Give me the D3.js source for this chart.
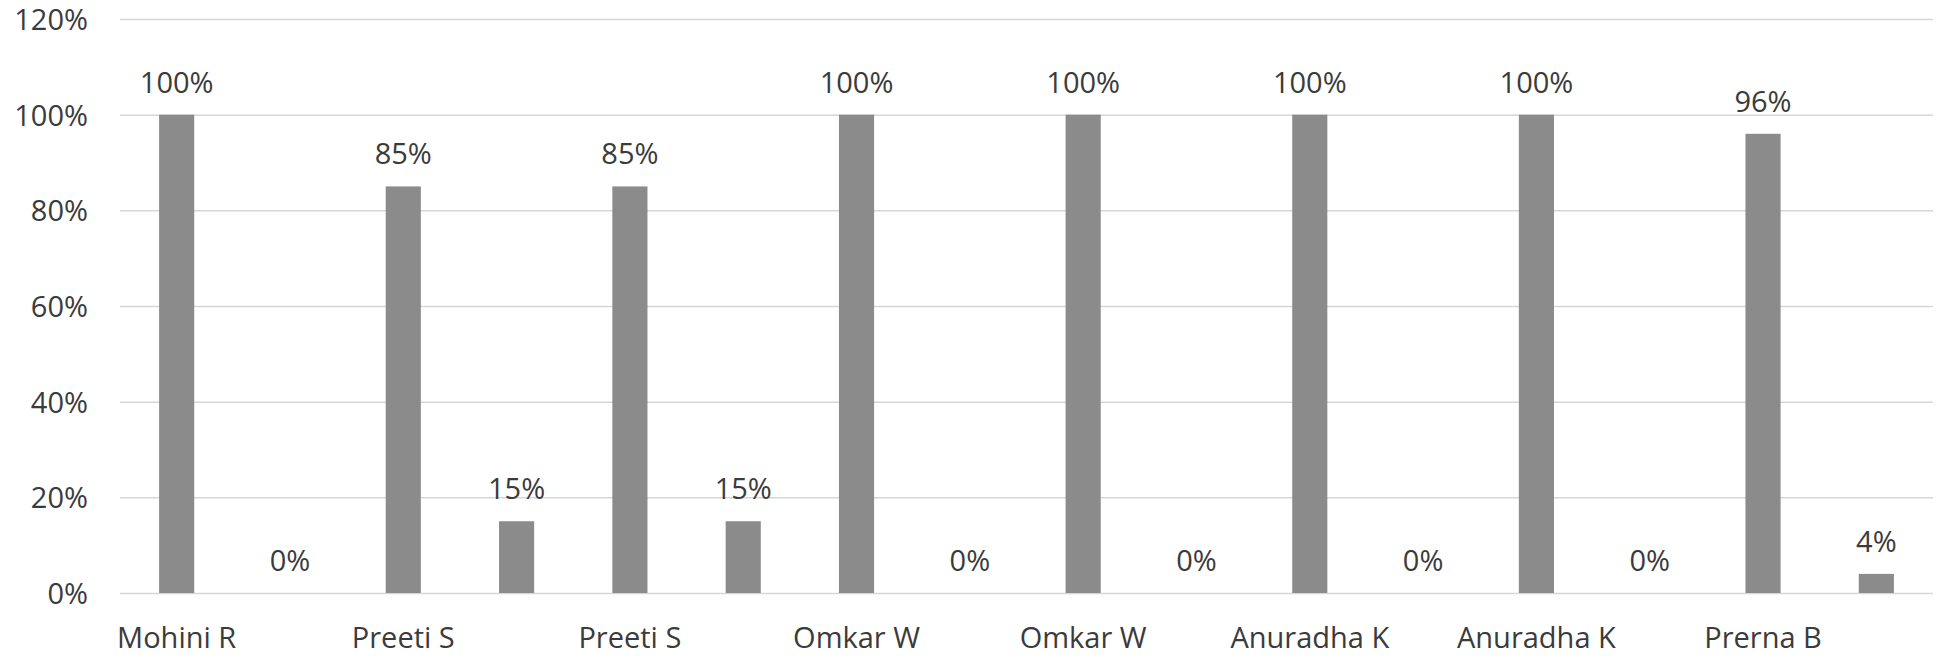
<!DOCTYPE html>
<html>
<head>
<meta charset="utf-8">
<script src="https://cdn.jsdelivr.net/npm/d3@7"></script>
<style>
    html, body { margin: 0; padding: 0; background: #fff; }
    svg { display: block; }
    text { font-family: "Open Sans", sans-serif; fill: #3b3b3b; }
</style>
</head>
<body>
<svg width="1945" height="657"></svg>
<script>
// Shown category labels (one per pair of bars)
const names = ["Mohini R", "Preeti S", "Preeti S", "Omkar W", "Omkar W", "Anuradha K", "Anuradha K", "Prerna B"];
// First and second bar of each pair, in percent
const seriesA = [100, 85, 85, 100, 100, 100, 100, 96];
const seriesB = [0, 15, 15, 0, 0, 0, 0, 4];
const yTicks = [0, 20, 40, 60, 80, 100, 120];

const width = 1945;
const height = 657;
const margin = {top: 19, right: 12, bottom: 64, left: 120};
const fontSize = 29;

// Flatten pairs into 16 slots
const bars = [];
names.forEach((n, i) => {
    bars.push({slot: i * 2, value: seriesA[i], name: n});
    bars.push({slot: i * 2 + 1, value: seriesB[i], name: n});
});

const svg = d3.select("svg");

const x = d3.scaleBand()
    .domain(d3.range(names.length * 2))
    .range([margin.left, width - margin.right])
    .paddingInner(0.69)
    .paddingOuter(0.345);

const y = d3.scaleLinear()
    .domain([0, 120])
    .range([height - margin.bottom, margin.top]);

// Gridlines + y labels
const yAxis = svg.append("g")
    .attr("transform", `translate(${margin.left},0)`)
    .call(d3.axisLeft(y)
        .tickValues(yTicks)
        .tickSize(-(width - margin.left - margin.right))
        .tickPadding(32)
        .tickFormat(d => d + "%"));
yAxis.select(".domain").remove();
yAxis.selectAll(".tick line")
    .attr("stroke", "#d6d6d6")
    .attr("stroke-width", 1.5);
yAxis.selectAll(".tick text")
    .attr("font-size", fontSize)
    .attr("dy", "0.36em")
    .style("fill", "#3b3b3b");

// Bars
svg.append("g")
    .selectAll("rect")
    .data(bars)
    .join("rect")
    .attr("x", d => x(d.slot))
    .attr("y", d => y(d.value))
    .attr("width", x.bandwidth())
    .attr("height", d => y(0) - y(d.value))
    .attr("fill", "#8b8b8b");

// Value labels
svg.append("g")
    .selectAll("text")
    .data(bars)
    .join("text")
    .attr("x", d => x(d.slot) + x.bandwidth() / 2)
    .attr("y", d => y(d.value) - 22)
    .attr("text-anchor", "middle")
    .attr("font-size", fontSize)
    .text(d => d.value + "%");

// Category axis: labels under the first bar of each pair
const xAxis = svg.append("g")
    .attr("transform", `translate(0,${y(0)})`)
    .call(d3.axisBottom(x)
        .tickValues(d3.range(0, names.length * 2, 2))
        .tickSize(0)
        .tickPadding(34)
        .tickFormat(d => names[d / 2]));
xAxis.select(".domain").remove();
xAxis.selectAll(".tick text")
    .attr("font-size", fontSize)
    .attr("dy", "0.71em")
    .style("fill", "#3b3b3b");
</script>
</body>
</html>
